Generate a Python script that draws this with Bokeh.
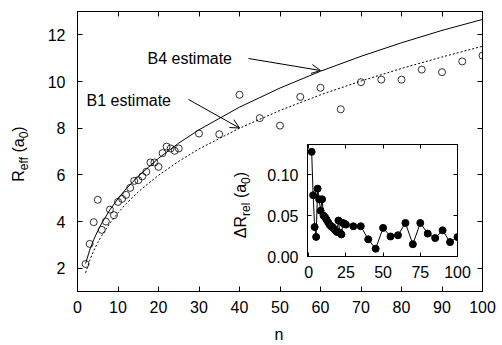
from bokeh.plotting import figure
from bokeh.models import (Range1d, LinearAxis, FixedTicker, Label, Arrow, OpenHead,
                          CustomJSTickFormatter, PrintfTickFormatter, Div)
from bokeh.layouts import column
from bokeh.embed import file_html
from bokeh.resources import INLINE

# ---------------- data ----------------
n_vals = [2, 3, 4, 5, 6, 7, 8, 9, 10, 11, 12, 13, 14, 15, 16, 17, 18, 19, 20, 21, 22, 23, 24, 25,
          30, 35, 40, 45, 50, 55, 60, 65, 70, 75, 80, 85, 90, 95, 100]
r_eff = [2.18, 3.04, 3.97, 4.93, 3.64, 4.00, 4.51, 4.27, 4.84, 4.97, 5.14, 5.44, 5.74, 5.77,
         5.93, 6.13, 6.53, 6.53, 6.34, 6.93, 7.21, 7.13, 7.03, 7.13,
         7.77, 7.74, 9.43, 8.43, 8.11, 9.34, 9.73, 8.81, 9.97, 10.08, 10.08, 10.51, 10.40, 10.86, 11.11]
dr_rel = [0.128, 0.075, 0.036, 0.024, 0.083, 0.070, 0.056, 0.070, 0.050, 0.048, 0.045, 0.042,
          0.039, 0.037, 0.036, 0.034, 0.032, 0.030, 0.044, 0.029, 0.027, 0.041, 0.040, 0.039,
          0.037, 0.037, 0.021, 0.0095, 0.035, 0.0245, 0.026, 0.041, 0.015, 0.041, 0.028, 0.0225,
          0.032, 0.0176, 0.0237]

curve_n = [2, 3, 4, 5, 6, 8, 10, 12, 15, 20, 25, 30, 40, 50, 60, 70, 80, 90, 100]
b4_est = [2.20, 2.77, 3.22, 3.60, 3.93, 4.50, 4.98, 5.40, 5.94, 6.71, 7.36, 7.93, 8.90, 9.72,
          10.44, 11.08, 11.66, 12.19, 12.66]
b1_est = [1.80, 2.33, 2.75, 3.10, 3.40, 3.93, 4.37, 4.76, 5.27, 5.98, 6.58, 7.11, 8.00, 8.76,
          9.43, 10.02, 10.56, 11.05, 11.51]

x_ticks = [0, 10, 20, 30, 40, 50, 60, 70, 80, 90, 100]
y_ticks = [2, 4, 6, 8, 10, 12]
inset_x_ticks = [0, 25, 50, 75, 100]
inset_y_ticks = [0.0, 0.05, 0.10]

FONT = "Liberation Sans"
FS = "16px"

# ---------------- main figure ----------------
ML, MR, MT, MB = 77, 20, 11, 54
W, H = 502, 345
X0, X1, Y0, Y1 = 0, 100, 1, 13
p = figure(width=W, height=H, x_range=Range1d(X0, X1), y_range=Range1d(Y0, Y1),
           output_backend="svg", toolbar_location=None,
           min_border_left=ML, min_border_right=MR, min_border_top=MT, min_border_bottom=MB)
p.xgrid.visible = False
p.ygrid.visible = False
p.outline_line_color = "black"
p.background_fill_color = "white"
p.border_fill_color = "white"

fw = W - ML - MR
fh = H - MT - MB
def mx(px):
    return X0 + (px - ML) * (X1 - X0) / fw
def my(py):
    return Y0 + (MT + fh - py) * (Y1 - Y0) / fh

def style_axis(ax, ticks, labels=True, tick_len=5):
    ax.ticker = FixedTicker(ticks=ticks)
    ax.major_tick_in = tick_len
    ax.major_tick_out = 0
    ax.minor_tick_line_color = None
    ax.axis_line_color = "black"
    ax.major_tick_line_color = "black"
    if labels:
        ax.major_label_text_font = FONT
        ax.major_label_text_font_size = FS
        ax.major_label_text_color = "black"
    else:
        ax.formatter = CustomJSTickFormatter(code="return ''")
        ax.major_label_text_font_size = "1px"
        ax.major_label_standoff = 0

style_axis(p.xaxis[0], x_ticks)
p.xaxis[0].major_label_standoff = 9
style_axis(p.yaxis[0], y_ticks)
p.yaxis[0].major_label_standoff = 12
top_ax = LinearAxis()
style_axis(top_ax, x_ticks, labels=False)
p.add_layout(top_ax, "above")
right_ax = LinearAxis()
style_axis(right_ax, y_ticks, labels=False)
p.add_layout(right_ax, "right")

p.line(curve_n, b4_est, line_color="black", line_width=1)
p.line(curve_n, b1_est, line_color="black", line_width=1, line_dash="2 2")
p.scatter(n_vals, r_eff, size=7, marker="circle", fill_color=None,
          line_color="black", line_width=0.8)

def lab(fig, x, y, text):
    fig.add_layout(Label(x=x, y=y, text=text, text_font=FONT, text_font_size=FS,
                         text_color="black", text_align="left", text_baseline="middle"))

lab(p, mx(147), my(58), "B4 estimate")
lab(p, mx(86), my(100), "B1 estimate")
p.add_layout(Arrow(end=OpenHead(size=9, line_width=1, line_color="black"),
                   x_start=mx(248), y_start=my(58), x_end=mx(320), y_end=my(70),
                   line_color="black", line_width=1))
p.add_layout(Arrow(end=OpenHead(size=9, line_width=1, line_color="black"),
                   x_start=mx(188), y_start=my(99), x_end=mx(239), y_end=my(127.5),
                   line_color="black", line_width=1))

# ---------------- inset figure (same side borders as main, so column alignment is harmless) ----------------
IFW, IFH = 150, 112
IT, IB = 5, 32
IW, IH = ML + IFW + MR, IT + IFH + IB
IX0, IX1, IY0, IY1 = -0.8, 100, 0.0, 0.137
ins_left, ins_top = 307 - ML, 144 - IT
ins = figure(width=IW, height=IH, x_range=Range1d(IX0, IX1), y_range=Range1d(IY0, IY1),
             output_backend="svg", toolbar_location=None,
             min_border_left=ML, min_border_right=MR, min_border_top=IT, min_border_bottom=IB,
             styles={"position": "absolute", "left": f"{ins_left}px", "top": f"{ins_top}px"})
ins.xgrid.visible = False
ins.ygrid.visible = False
ins.outline_line_color = "black"
ins.background_fill_color = "white"
ins.border_fill_color = None

style_axis(ins.xaxis[0], inset_x_ticks, tick_len=4)
ins.xaxis[0].major_label_standoff = 9
style_axis(ins.yaxis[0], inset_y_ticks, tick_len=4)
ins.yaxis[0].formatter = PrintfTickFormatter(format="%.2f")
ins.yaxis[0].major_label_standoff = 9
it_ax = LinearAxis()
style_axis(it_ax, inset_x_ticks, labels=False, tick_len=4)
ins.add_layout(it_ax, "above")
ir_ax = LinearAxis()
style_axis(ir_ax, inset_y_ticks, labels=False, tick_len=4)
ins.add_layout(ir_ax, "right")

ins.line(n_vals, dr_rel, line_color="black", line_width=1)
ins.scatter(n_vals, dr_rel, size=7, marker="circle", fill_color="black", line_color="black")

# ---------------- axis titles with subscripts (HTML text) ----------------
def text_div(html, cx, cy, w, h, rotate=False):
    st = {"position": "absolute", "left": f"{cx - w / 2}px", "top": f"{cy - h / 2}px",
          "font-family": FONT, "font-size": FS, "color": "black", "text-align": "center",
          "line-height": f"{h}px", "white-space": "nowrap", "overflow": "visible"}
    if rotate:
        st["transform"] = "rotate(-90deg)"
        st["transform-origin"] = "50% 50%"
    return Div(text=html, width=w, height=h, margin=0, styles=st)

ylab = text_div("R<sub style='font-size:12px'>eff</sub> (a<sub style='font-size:12px'>0</sub>)",
                19, 154, 90, 20, rotate=True)
iylab = text_div("ΔR<sub style='font-size:12px'>rel</sub> (a<sub style='font-size:12px'>0</sub>)",
                 241, 205, 100, 20, rotate=True)
xlab = text_div("n", 279, 335, 30, 18)

layout = column(p, ins, ylab, iylab, xlab)
open("out.html", "w").write(file_html(layout, INLINE))
